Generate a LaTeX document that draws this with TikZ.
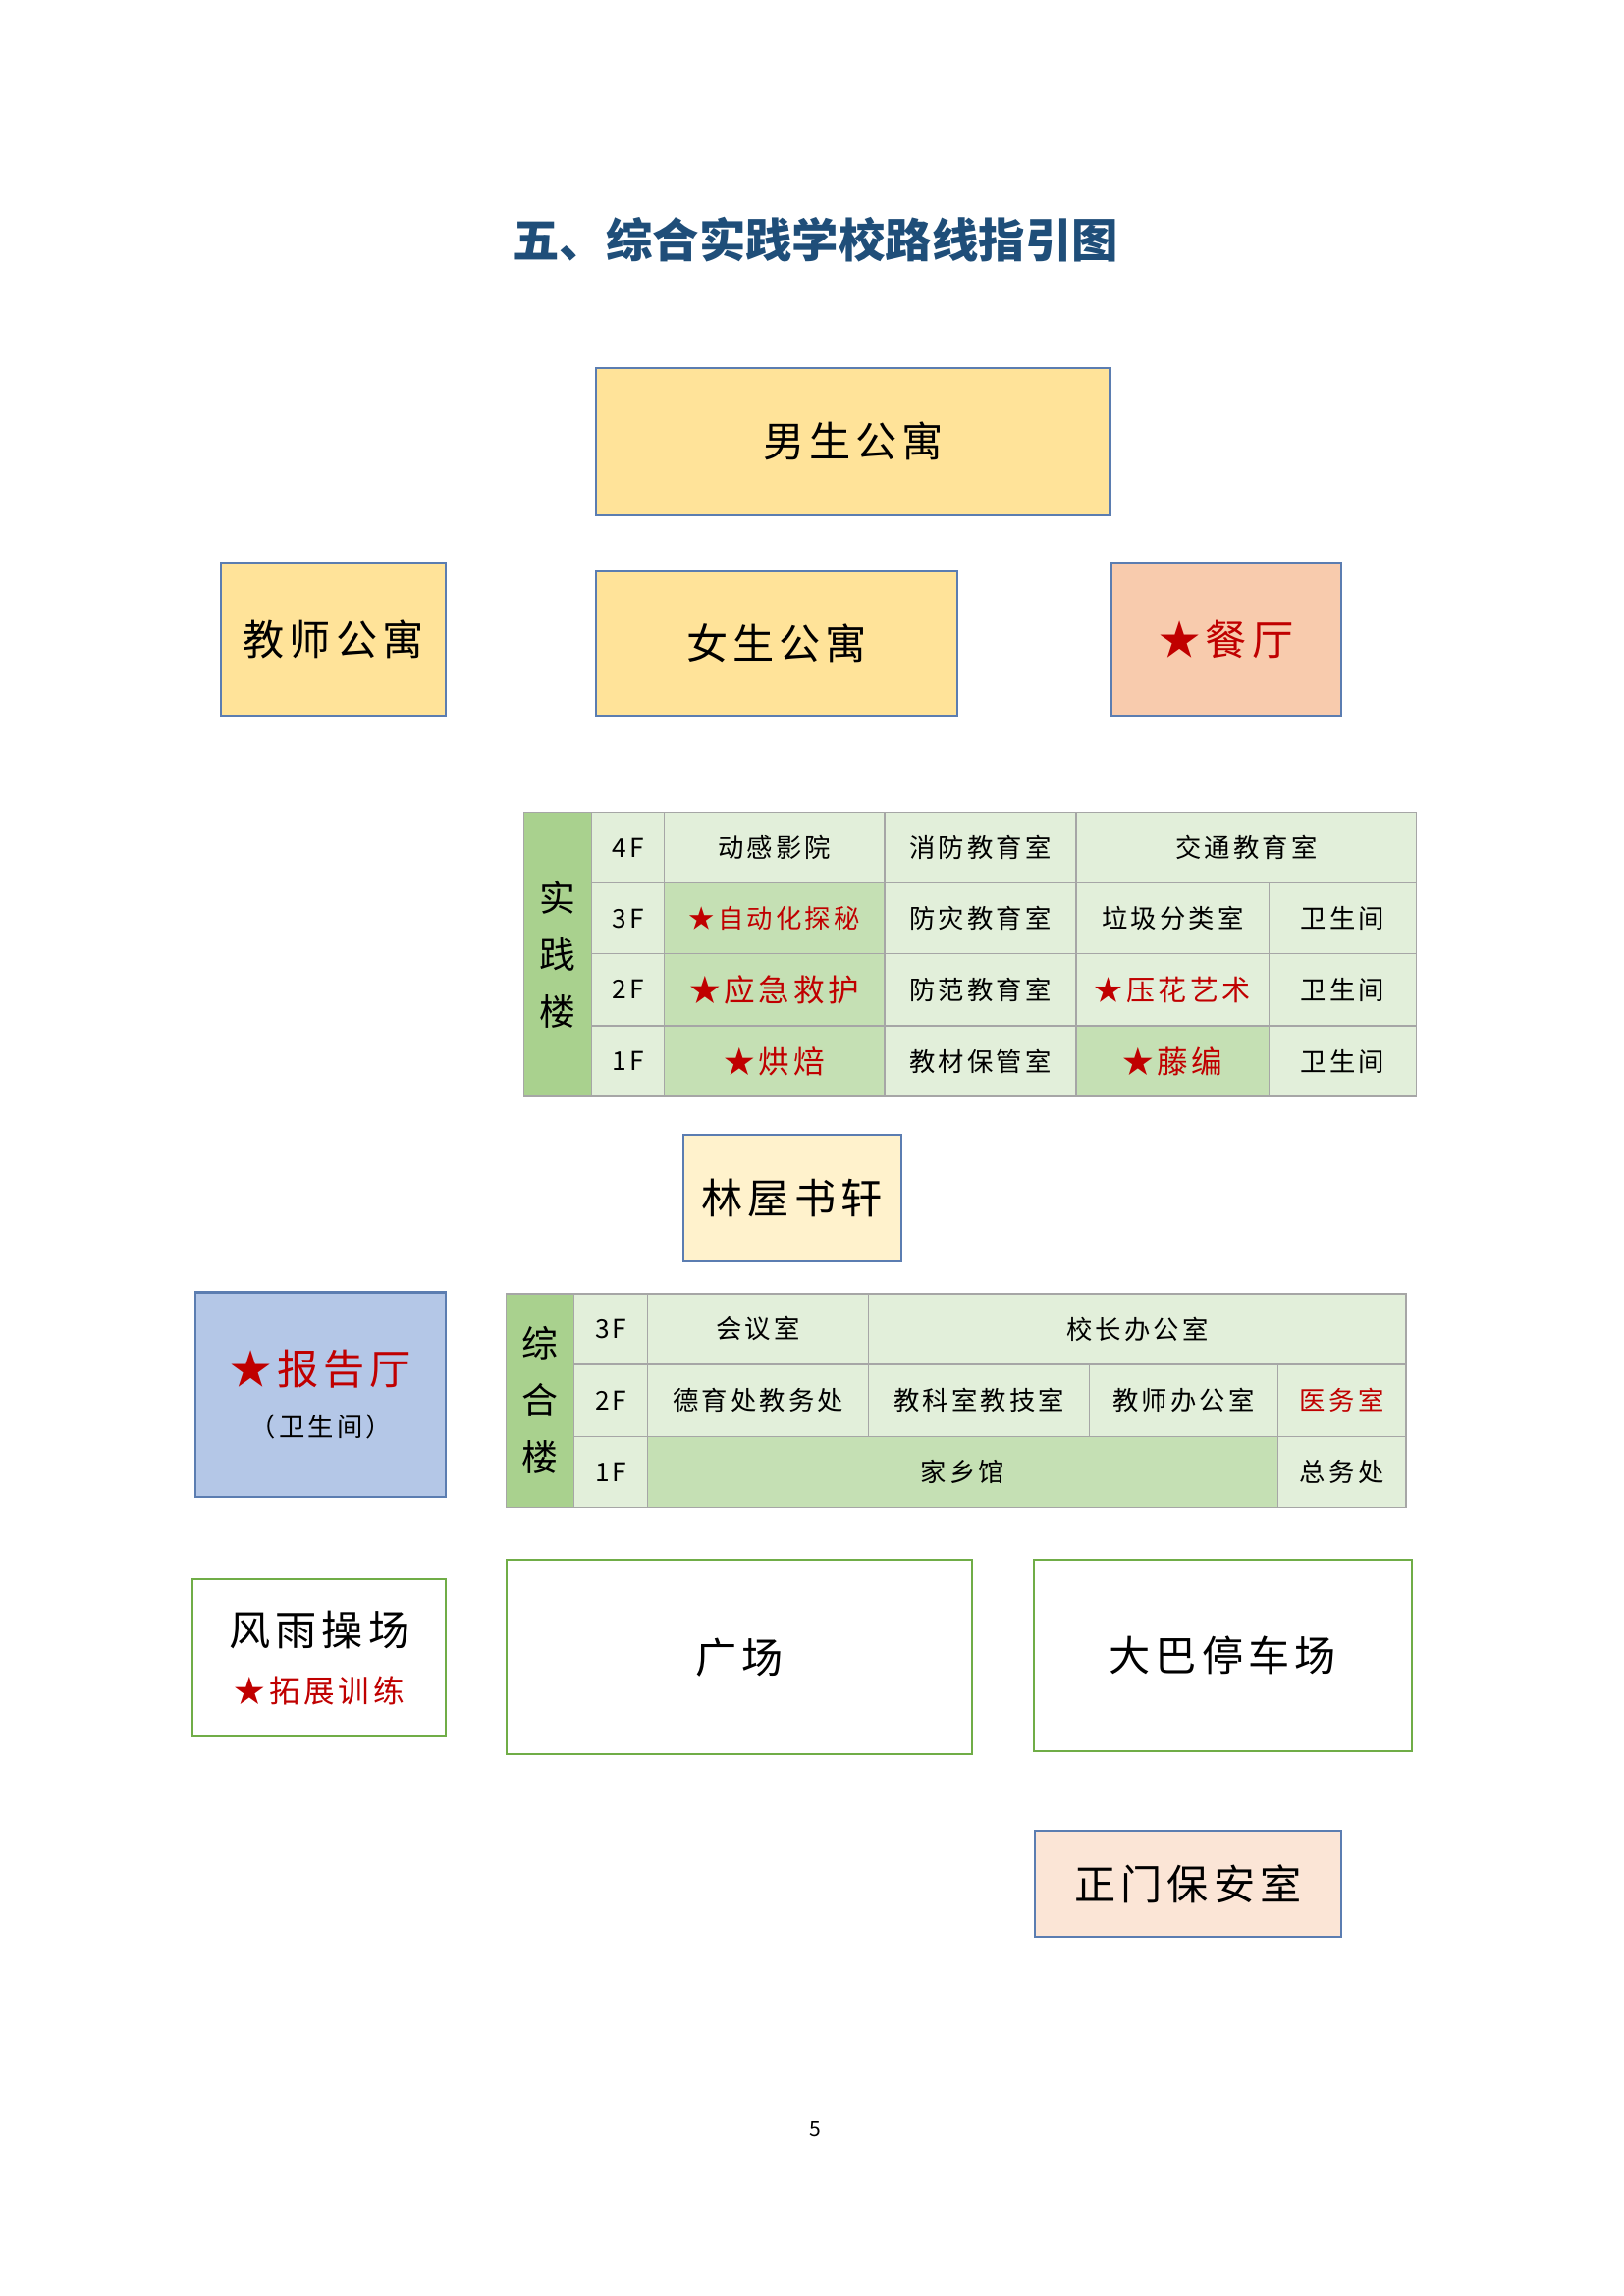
\documentclass[tikz,border=0pt]{standalone}
\usepackage{fontspec}
\setmainfont{Noto Sans CJK SC}
\newfontfamily\cjk{Noto Sans CJK SC}[LetterSpace=12]
\definecolor{titleblue}{HTML}{1F4E79}
\definecolor{boxblue}{HTML}{5B7DB1}
\definecolor{yel}{HTML}{FFE399}
\definecolor{peach}{HTML}{F8CBAD}
\definecolor{lightyel}{HTML}{FFF2CC}
\definecolor{skyb}{HTML}{B4C7E7}
\definecolor{pink}{HTML}{FBE5D6}
\definecolor{grnborder}{HTML}{70AD47}
\definecolor{lbl}{HTML}{A9D18E}
\definecolor{lite}{HTML}{E2EFDA}
\definecolor{mid}{HTML}{C5E0B4}
\definecolor{redt}{HTML}{C00000}
% cell: name, x1, x2, y1, y2, style, text
\newcommand{\cellbox}[7]{%
  \node[#6, minimum width={(#3-#2)*0.02cm}, minimum height={(#5-#4)*0.02cm}]
    (#1) at ({(#2+#3)/2},{(#4+#5)/2}) {#7};}
\begin{document}
\begin{tikzpicture}[x=0.02cm, y=-0.02cm,
  big/.style={draw=boxblue, line width=0.8pt, inner sep=0pt, font=\cjk\fontsize{16}{18}\selectfont},
  grn/.style={draw=grnborder, line width=0.8pt, fill=white, inner sep=0pt, font=\cjk\fontsize{16}{18}\selectfont},
  cell/.style={draw=gray!70, line width=0.5pt, fill=lite, inner sep=0pt, font=\cjk\fontsize{10}{12}\selectfont},
  hot/.style={cell, fill=mid},
  side/.style={cell, fill=lbl, align=center, font=\fontsize{14}{22}\selectfont},
  red/.style={text=redt}]
\useasboundingbox (0,0) rectangle (1103,1560);

\node[font=\bfseries\fontsize{18}{20}\selectfont, text=titleblue] (title) at (554,163) {五、综合实践学校路线指引图};

\cellbox{boys}{405}{754}{250}{350}{big, fill=yel}{男生公寓}
\cellbox{teach}{150}{303}{383}{486}{big, fill=yel}{教师公寓}
\cellbox{girls}{405}{650}{388}{486}{big, fill=yel}{女生公寓}
\cellbox{dining}{755}{911}{383}{486}{big, fill=peach, red}{★餐厅}

% practice building
\cellbox{pl}{356}{402}{552}{745}{side}{实\\践\\楼}
\cellbox{p4}{402}{451}{552}{600}{cell}{4F}
\cellbox{p4a}{451}{601}{552}{600}{cell}{动感影院}
\cellbox{p4b}{601}{731}{552}{600}{cell}{消防教育室}
\cellbox{p4c}{731}{962}{552}{600}{cell}{交通教育室}
\cellbox{p3}{402}{451}{600}{648}{cell}{3F}
\cellbox{p3a}{451}{601}{600}{648}{hot, red}{★自动化探秘}
\cellbox{p3b}{601}{731}{600}{648}{cell}{防灾教育室}
\cellbox{p3c}{731}{862}{600}{648}{cell}{垃圾分类室}
\cellbox{p3d}{862}{962}{600}{648}{cell}{卫生间}
\cellbox{p2}{402}{451}{648}{697}{cell}{2F}
\cellbox{p2a}{451}{601}{648}{697}{hot, red, font=\cjk\fontsize{12}{14}\selectfont}{★应急救护}
\cellbox{p2b}{601}{731}{648}{697}{cell}{防范教育室}
\cellbox{p2c}{731}{862}{648}{697}{cell, red, font=\cjk\fontsize{11}{14}\selectfont}{★压花艺术}
\cellbox{p2d}{862}{962}{648}{697}{cell}{卫生间}
\cellbox{p1}{402}{451}{697}{745}{cell}{1F}
\cellbox{p1a}{451}{601}{697}{745}{hot, red, font=\cjk\fontsize{12}{14}\selectfont}{★烘焙}
\cellbox{p1b}{601}{731}{697}{745}{cell}{教材保管室}
\cellbox{p1c}{731}{862}{697}{745}{hot, red, font=\cjk\fontsize{12}{14}\selectfont}{★藤编}
\cellbox{p1d}{862}{962}{697}{745}{cell}{卫生间}

\cellbox{books}{464}{612}{771}{857}{big, fill=lightyel}{林屋书轩}
\cellbox{hall}{133}{303}{878}{1017}{big, fill=skyb, align=center}{\textcolor{redt}{★报告厅}\\[2pt]{\fontsize{10}{12}\selectfont （卫生间）}}

% comprehensive building
\cellbox{cl}{344}{390}{879}{1024}{side}{综\\合\\楼}
\cellbox{c3}{390}{440}{879}{927}{cell}{3F}
\cellbox{c3a}{440}{590}{879}{927}{cell}{会议室}
\cellbox{c3b}{590}{955}{879}{927}{cell}{校长办公室}
\cellbox{c2}{390}{440}{927}{976}{cell}{2F}
\cellbox{c2a}{440}{590}{927}{976}{cell}{德育处教务处}
\cellbox{c2b}{590}{740}{927}{976}{cell}{教科室教技室}
\cellbox{c2c}{740}{868}{927}{976}{cell}{教师办公室}
\cellbox{c2d}{868}{955}{927}{976}{cell, red}{医务室}
\cellbox{c1}{390}{440}{976}{1024}{cell}{1F}
\cellbox{c1a}{440}{868}{976}{1024}{hot}{家乡馆}
\cellbox{c1b}{868}{955}{976}{1024}{cell}{总务处}

\cellbox{gym}{131}{303}{1073}{1180}{grn, align=center}{风雨操场\\[4pt]{\fontsize{12}{14}\selectfont\color{redt}★拓展训练}}
\cellbox{square}{344}{660}{1060}{1192}{grn}{广场}
\cellbox{bus}{702}{959}{1060}{1190}{grn}{大巴停车场}
\cellbox{gate}{703}{911}{1244}{1316}{big, fill=pink}{正门保安室}

\node[font=\fontsize{8}{10}\selectfont] (page) at (554,1447) {5};
\end{tikzpicture}
\end{document}
